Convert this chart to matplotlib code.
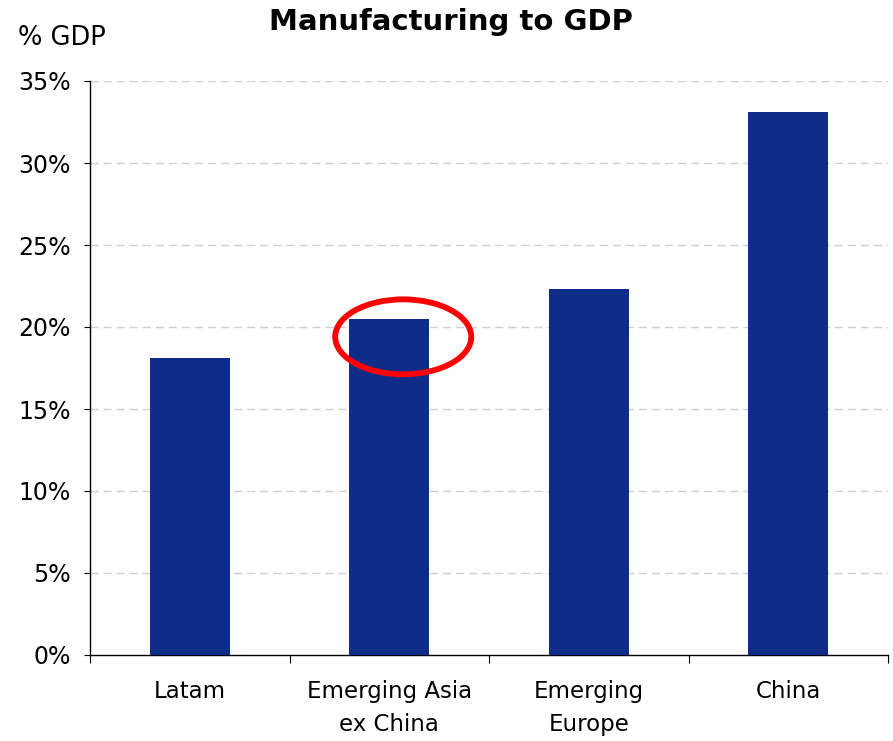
import matplotlib.pyplot as plt
from matplotlib.patches import Ellipse
from matplotlib.ticker import PercentFormatter

regions = ['Latam', 'Emerging Asia\nex China', 'Emerging\nEurope', 'China']
manuf_share = [18.1, 20.5, 22.3, 33.1]
y_ticks = [0, 5, 10, 15, 20, 25, 30, 35]

bar_color = '#0f2d88'
fs = 16.5

fig = plt.figure(figsize=(8.93, 7.41), dpi=100)
ax = fig.add_axes([90 / 893, 1 - 655 / 741, 798 / 893, 574 / 741])

x = list(range(len(regions)))
ax.bar(x, manuf_share, width=0.4, color=bar_color, zorder=3)

ax.set_xlim(-0.5, len(regions) - 0.5)
ax.set_ylim(0, 35)
ax.set_yticks(y_ticks)
ax.yaxis.set_major_formatter(PercentFormatter(decimals=0))
ax.tick_params(axis='y', labelsize=17, length=4, pad=10, direction='out')

# x ticks sit between the categories, labels at the centres
ax.set_xticks([i - 0.5 for i in range(len(regions) + 1)])
ax.set_xticklabels([])
ax.tick_params(axis='x', length=6, direction='out')
for i, name in enumerate(regions):
    ax.text(i, -1.5, name, ha='center', va='top', fontsize=fs,
            linespacing=1.6)

for y in y_ticks[1:]:
    ax.axhline(y, color='#d0d0d0', linestyle=(0, (5.8, 3.6)), linewidth=1,
               zorder=1)

for side in ['top', 'right']:
    ax.spines[side].set_visible(False)
ax.spines['left'].set_linewidth(1)
ax.spines['bottom'].set_linewidth(1)

# red highlight round the Emerging Asia bar
ax.add_patch(Ellipse((1.07, 19.4), 0.682, 4.57, fill=False,
                     edgecolor='#ff0000', linewidth=4.2, zorder=4,
                     clip_on=False))

fig.text(451 / 893, 1 - 22 / 741, 'Manufacturing to GDP', ha='center',
         va='center', fontsize=21, fontweight='bold')
fig.text(18 / 893, 1 - 38 / 741, '% GDP', ha='left', va='center',
         fontsize=18.5)

fig.savefig('out.png', dpi=100)
